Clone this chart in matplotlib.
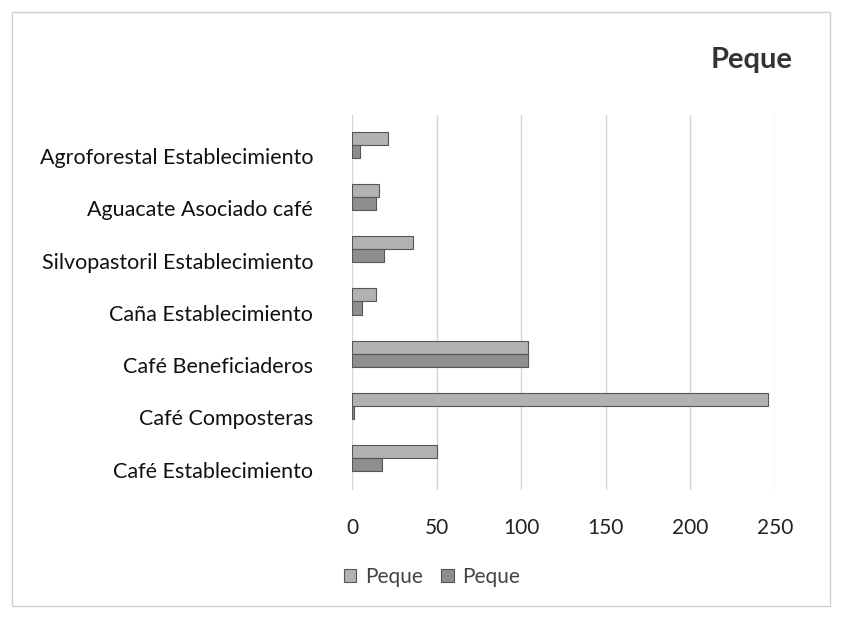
import matplotlib
matplotlib.use("Agg")
import matplotlib.pyplot as plt
import numpy as np
from matplotlib.patches import Rectangle

categories = ["Café Establecimiento", "Café Composteras", "Café Beneficiaderos",
              "Caña Establecimiento", "Silvopastoril Establecimiento",
              "Aguacate Asociado café", "Agroforestal Establecimiento"]
series_upper = [50, 246, 104, 14, 36, 16, 21]   # lighter series
series_lower = [18, 1, 104, 6, 19, 14, 5]       # darker series
series_names = ["Peque", "Peque"]
title = "Peque"
x_ticks = [0, 50, 100, 150, 200, 250]

plt.rcParams['font.family'] = ['Lato', 'DejaVu Sans']

fig = plt.figure(figsize=(8.42, 6.18), dpi=100)
fig.patch.set_facecolor('white')
fig.patches.append(Rectangle((12/842, 12/618), 818/842, 594/618, transform=fig.transFigure,
                             fill=False, edgecolor='#d0d0d0', linewidth=1.0))

ax = fig.add_axes([352/842, 1-490/618, (775-352)/842, (490-115)/618])
y = np.arange(len(categories))
h = 0.25
ax.barh(y + h/2, series_upper, height=h, color='#b2b2b2', edgecolor='#555555', linewidth=0.8,
        label=series_names[0], zorder=3)
ax.barh(y - h/2, series_lower, height=h, color='#8e8e8e', edgecolor='#555555', linewidth=0.8,
        label=series_names[1], zorder=3)

ax.set_xlim(0, 250)
ax.set_ylim(-0.61, 6.57)
ax.set_xticks(x_ticks)
ax.set_xticklabels([str(t) for t in x_ticks], fontsize=15, color='#222222')
ax.set_yticks(y - 0.22)
ax.set_yticklabels(categories, fontsize=15.5, color='#111111')
ax.tick_params(axis='both', length=0)
ax.tick_params(axis='x', pad=20)
ax.tick_params(axis='y', pad=28)
ax.grid(axis='x', color='#d4d4d4', linewidth=1.0, zorder=0)
for s in ax.spines.values():
    s.set_visible(False)

fig.text(752/842, 1-60/618, title, fontsize=21, fontweight='bold', color='#333333',
         ha='center', va='center')

fig.legend(loc='center', bbox_to_anchor=(432/842, 1-577/618), ncol=2, frameon=False,
           fontsize=15, handlelength=0.6, handleheight=0.6, columnspacing=0.9, handletextpad=0.4,
           labelcolor='#444444')

fig.savefig("out.png", dpi=100)
